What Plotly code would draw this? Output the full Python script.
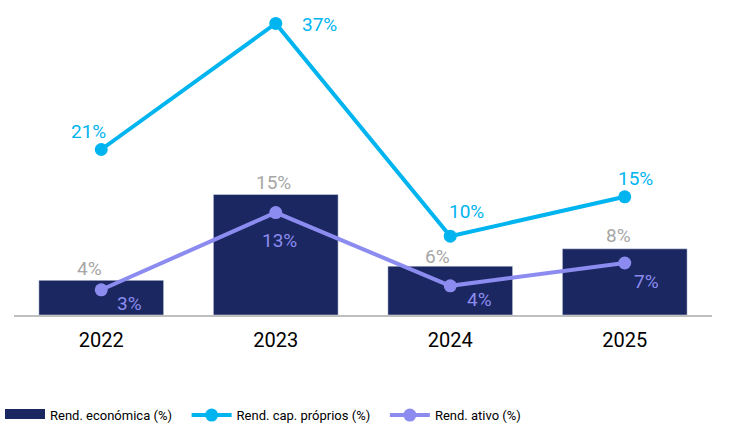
import plotly.graph_objects as go

years = ["2022", "2023", "2024", "2025"]
rend_economica = [4.4, 15.3, 6.2, 8.4]
rend_cap_proprios = [21, 37, 10, 15]
rend_ativo = [3.2, 13, 3.7, 6.6]

NAVY = "#1B2761"
CYAN = "#00B4F0"
LILAC = "#8C8CF0"
GREY = "#A6A6A6"
FONT = "Roboto"
PAD = "\u00a0" * 3  # extra spacing between legend entries

pos = list(range(len(years)))

fig = go.Figure()

fig.add_trace(go.Bar(
    x=pos, y=rend_economica, marker_color=NAVY, width=0.715,
    showlegend=False, hoverinfo="skip",
))
# legend proxy for the bars (wide dark swatch)
fig.add_trace(go.Scatter(
    x=[None], y=[None], mode="lines", fill="toself", fillcolor=NAVY,
    line=dict(color=NAVY, width=8),
    name="Rend. económica (%)" + PAD,
))
fig.add_trace(go.Scatter(
    x=pos, y=rend_cap_proprios, mode="lines+markers",
    line=dict(color=CYAN, width=4), marker=dict(size=13, color=CYAN),
    name="Rend. cap. próprios (%)" + PAD,
))
fig.add_trace(go.Scatter(
    x=pos, y=rend_ativo, mode="lines+markers",
    line=dict(color=LILAC, width=4), marker=dict(size=13, color=LILAC),
    name="Rend. ativo (%)",
))

annotations = []
bar_shift = [(-12, 12), (-2, 12), (-13, 10), (-6, 13)]
for p, v, (dx, dy) in zip(pos, rend_economica, bar_shift):
    annotations.append(dict(x=p, y=v, text=f"{v:.0f}%", showarrow=False,
                            xshift=dx, yshift=dy, font=dict(color=GREY, size=19, family=FONT)))
cap_shift = [(-13, 18), (44, -1), (16, 25), (11, 18)]
for p, v, (dx, dy) in zip(pos, rend_cap_proprios, cap_shift):
    annotations.append(dict(x=p, y=v, text=f"{v:.0f}%", showarrow=False,
                            xshift=dx, yshift=dy, font=dict(color=CYAN, size=19, family=FONT)))
at_shift = [(28, -14), (4, -28), (29, -14), (22, -19)]
for p, v, (dx, dy) in zip(pos, rend_ativo, at_shift):
    annotations.append(dict(x=p, y=v, text=f"{v:.0f}%", showarrow=False,
                            xshift=dx, yshift=dy, font=dict(color=LILAC, size=19, family=FONT)))

fig.update_layout(
    width=735, height=428,
    margin=dict(l=14, r=23, t=10, b=113, autoexpand=False),
    paper_bgcolor="white", plot_bgcolor="white",
    font=dict(family=FONT, color="black"),
    annotations=annotations,
    showlegend=True,
    legend=dict(orientation="h", xref="container", yref="container",
                x=-0.0175, xanchor="left", y=0.03, yanchor="middle",
                font=dict(family=FONT, size=13, color="black"),
                itemwidth=40, bgcolor="rgba(0,0,0,0)"),
    xaxis=dict(type="linear", range=[-0.5, len(years) - 0.5],
               tickmode="array", tickvals=pos, ticktext=years,
               showline=True, linecolor="#BFBFBF", linewidth=1.5,
               showgrid=False, zeroline=False, ticks="outside", ticklen=6,
               tickcolor="rgba(0,0,0,0)",
               tickfont=dict(size=20, family=FONT, color="black")),
    yaxis=dict(range=[0, 38.7], visible=False, showgrid=False, zeroline=False),
)

fig.write_html("out.html", config={"displayModeBar": False},
               post_script="document.body.style.margin='0';document.body.style.overflow='hidden';")
